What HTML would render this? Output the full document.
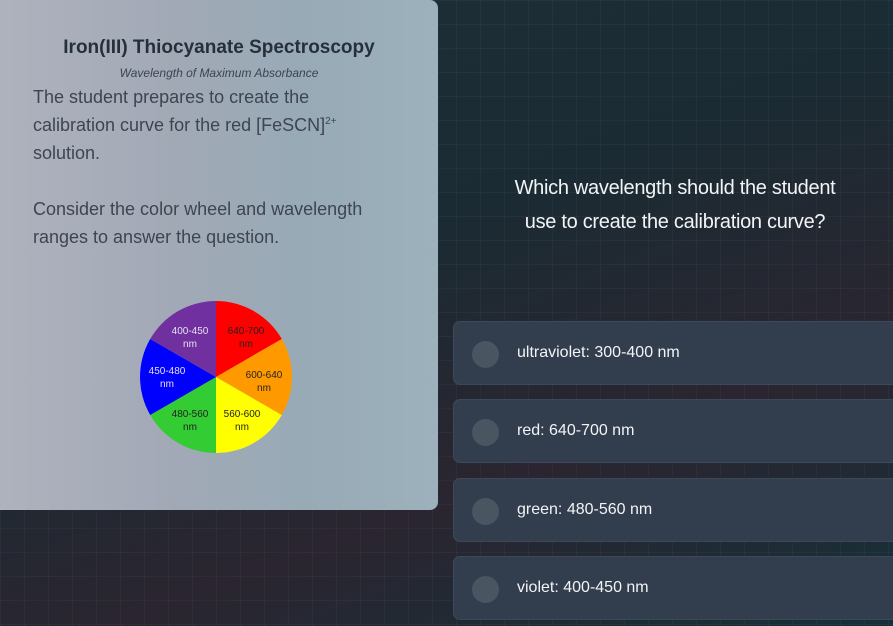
<!DOCTYPE html>
<html><head><meta charset="utf-8"><style>
*{margin:0;padding:0;box-sizing:border-box}
body{width:893px;height:626px;overflow:hidden;position:relative;font-family:"Liberation Sans",sans-serif;
background:
linear-gradient(rgba(255,255,255,0.03) 1px,transparent 1px) 0 0/24px 24px,
linear-gradient(90deg,rgba(255,255,255,0.03) 1px,transparent 1px) 0 0/24px 24px,
linear-gradient(160deg,#1d2f37 0%,#1b2b33 40%,#2a2530 70%,#153038 100%);}
.panel{position:absolute;left:0;top:0;width:438px;height:510px;border-radius:0 8px 8px 0;
background:linear-gradient(90deg,#aeb2bd 0%,#a2a9b6 40%,#97aab6 70%,#9db1bc 100%);}
.title{position:absolute;left:0;width:438px;top:37px;text-align:center;font-size:19px;font-weight:bold;color:#26303a}
.sub{position:absolute;left:0;width:438px;top:66px;text-align:center;font-size:12px;font-style:italic;color:#3b4450}
.txt{position:absolute;left:33px;top:83px;width:340px;font-size:18px;line-height:28px;color:#3d4550}
.txt sup{font-size:10px;line-height:0}
.q{position:absolute;left:460px;width:430px;top:171px;text-align:center;color:#f2f4f6;font-size:20px;line-height:34px;letter-spacing:-0.3px}
.opt{position:absolute;left:453px;width:445px;height:64px;border-radius:7px;background:#323e4e;border:1px solid #3d4959}
.opt .c{position:absolute;left:18px;top:19px;width:27px;height:27px;border-radius:50%;background:#4a5562}
.opt span{position:absolute;left:63px;top:22px;color:#f2f4f6;font-size:16px}
</style></head><body>
<div class="panel"></div>
<div class="title">Iron(III) Thiocyanate Spectroscopy</div>
<div class="sub">Wavelength of Maximum Absorbance</div>
<div class="txt">The student prepares to create the calibration curve for the red [FeSCN]<sup>2+</sup><br>solution.<br><br>Consider the color wheel and wavelength ranges to answer the question.</div>
<svg style="position:absolute;left:0;top:0" width="438" height="510" font-family="Liberation Sans, sans-serif" font-size="10" text-anchor="middle">
<path d="M216,377 L216,301 A76,76 0 0 1 281.8,339Z" fill="#ff0000"/>
<path d="M216,377 L281.8,339 A76,76 0 0 1 281.8,415Z" fill="#ff9900"/>
<path d="M216,377 L281.8,415 A76,76 0 0 1 216,453Z" fill="#ffff00"/>
<path d="M216,377 L216,453 A76,76 0 0 1 150.2,415Z" fill="#33cc33"/>
<path d="M216,377 L150.2,415 A76,76 0 0 1 150.2,339Z" fill="#0000ff"/>
<path d="M216,377 L150.2,339 A76,76 0 0 1 216,301Z" fill="#7030a0"/>
<g fill="#e6e0f0"><text x="190" y="334">400-450</text><text x="190" y="347">nm</text>
<text x="167" y="374">450-480</text><text x="167" y="387">nm</text></g>
<g fill="#222"><text x="246" y="334">640-700</text><text x="246" y="347">nm</text>
<text x="264" y="378">600-640</text><text x="264" y="391">nm</text>
<text x="242" y="417">560-600</text><text x="242" y="430">nm</text>
<text x="190" y="417">480-560</text><text x="190" y="430">nm</text></g>
</svg>
<div class="q">Which wavelength should the student<br>use to create the calibration curve?</div>
<div class="opt" style="top:321px"><div class="c"></div><span>ultraviolet: 300-400 nm</span></div>
<div class="opt" style="top:399px"><div class="c"></div><span>red: 640-700 nm</span></div>
<div class="opt" style="top:478px"><div class="c"></div><span>green: 480-560 nm</span></div>
<div class="opt" style="top:556px"><div class="c"></div><span>violet: 400-450 nm</span></div>
</body></html>
